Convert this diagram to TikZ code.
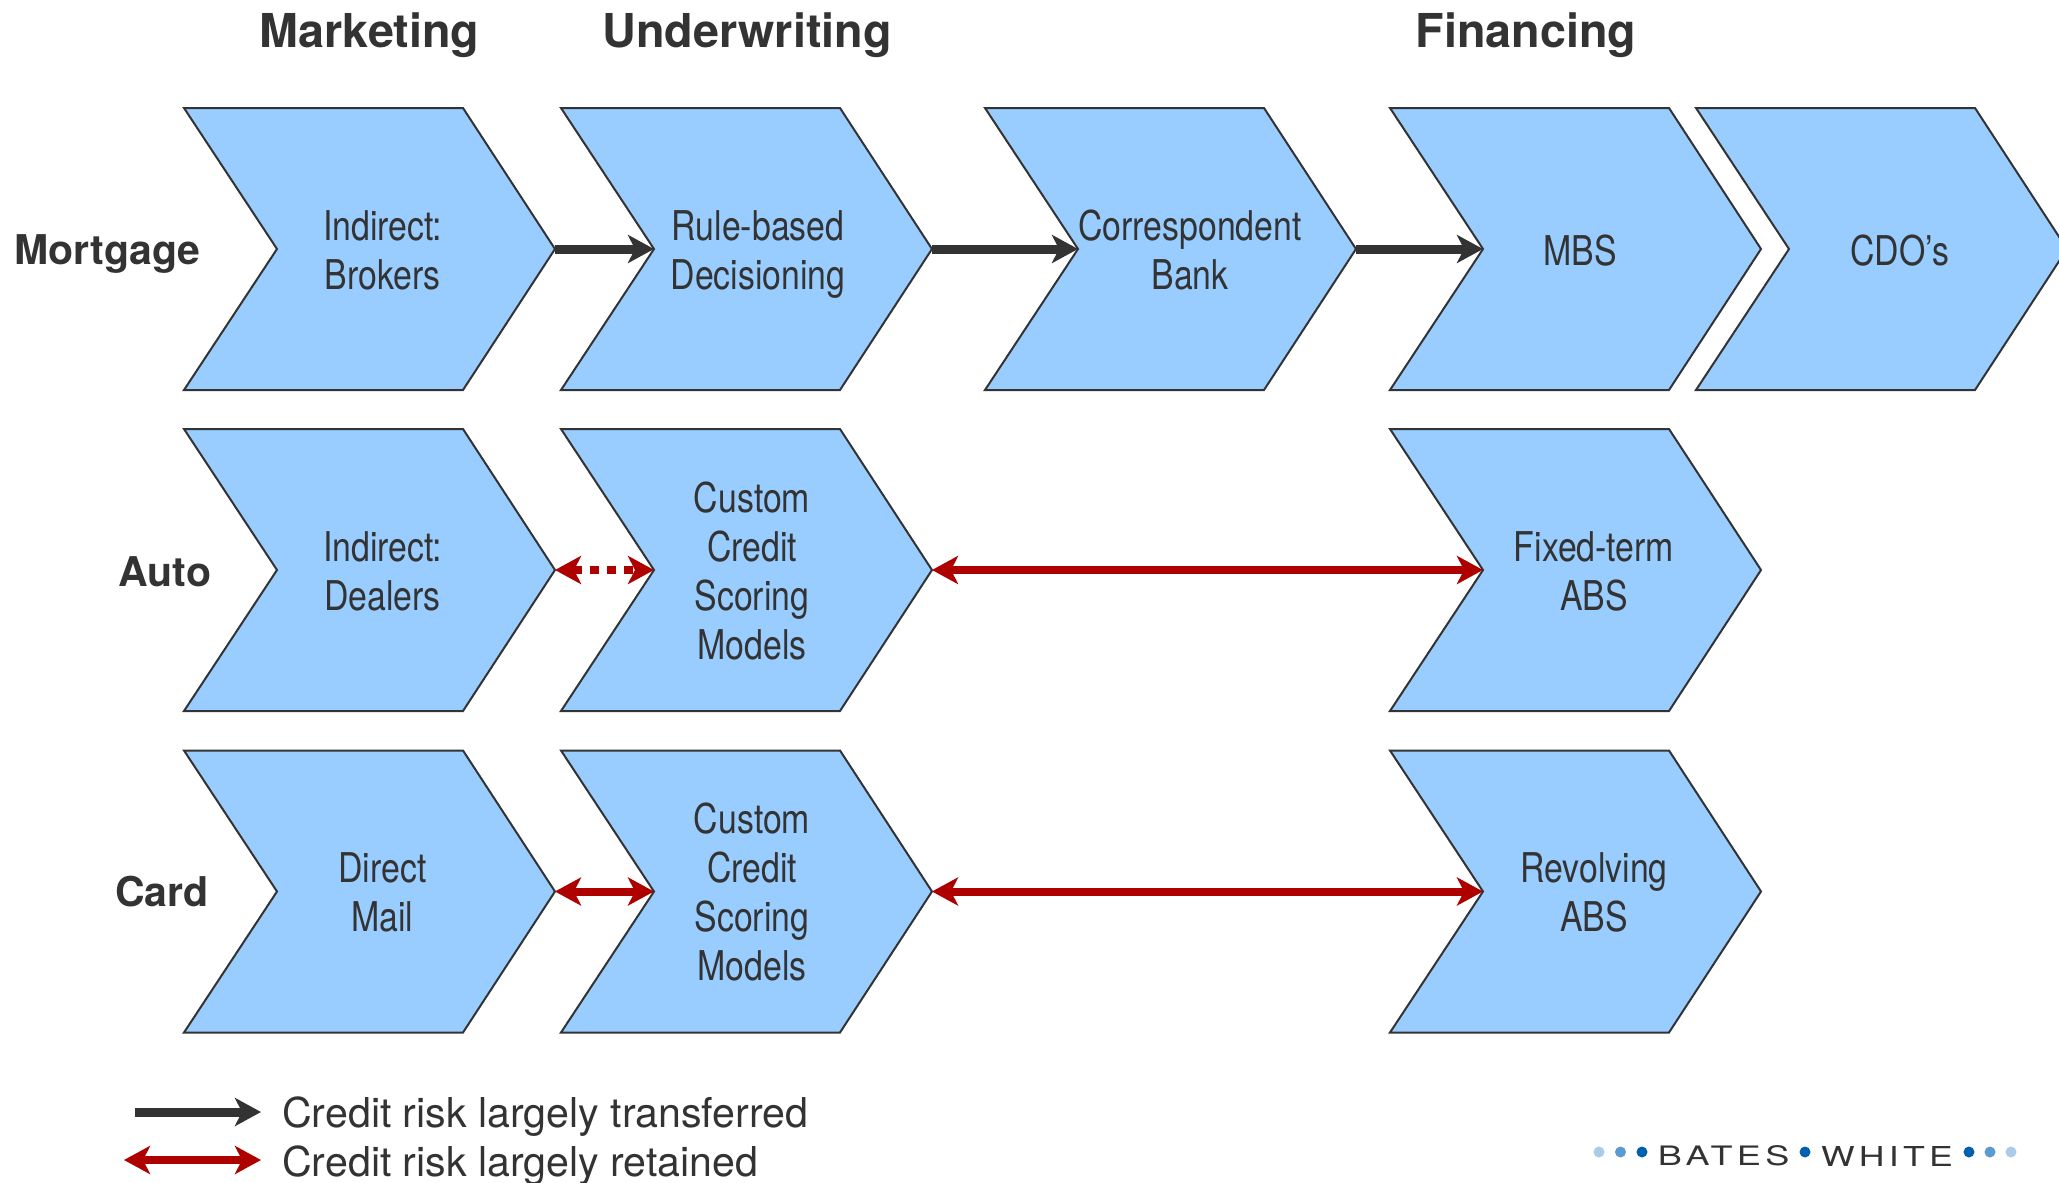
\documentclass[tikz,border=0pt]{standalone}
\usepackage{fontspec}
\usepackage{graphicx}
\usetikzlibrary{arrows.meta}
\setmainfont{TeX Gyre Heros}
\newfontfamily\narrowfont[FakeStretch=0.825]{TeX Gyre Heros}
\definecolor{chevfill}{HTML}{99CCFF}
\definecolor{ink}{HTML}{333333}
\definecolor{riskred}{HTML}{AF0000}
\definecolor{dotA}{HTML}{0060AE}
\definecolor{dotB}{HTML}{5B9BCF}
\definecolor{dotC}{HTML}{ABCBE6}
\tikzset{
  x=1pt,y=-1pt,
  chevron/.style={draw=ink,fill=chevfill,line width=2pt,line join=miter},
  chevtext/.style={text=ink,align=center,inner sep=0pt,font=\narrowfont\fontsize{41}{49}\selectfont},
  coltitle/.style={text=ink,anchor=base,inner sep=0pt,font=\bfseries\fontsize{46.7}{50}\selectfont},
  rowtitle/.style={text=ink,anchor=base,inner sep=0pt,font=\bfseries\fontsize{41}{46}\selectfont},
  legendtext/.style={text=ink,anchor=base west,inner sep=0pt,font=\fontsize{41.15}{46}\selectfont},
  transfer/.style={draw=ink,line width=9pt,-{Stealth[length=26pt,width=28pt,inset=7pt]}},
  retained/.style={draw=riskred,line width=8pt,{Stealth[length=26pt,width=28pt,inset=7pt]}-{Stealth[length=26pt,width=28pt,inset=7pt]}},
  retaineddash/.style={retained,dash pattern=on 9pt off 8pt},
  logotext/.style={text=ink,inner sep=0pt,anchor=center},
}
% name, left x, centre y, text x, text
\newcommand{\chevdy}{0}
\newcommand{\chev}[5]{%
  \draw[chevron] (#2,#3-141) -- ++(279,0) -- ++(92,141) -- ++(-92,141) -- ++(-279,0) -- ++(93,-141) -- cycle;
  \coordinate (#1-n) at (#2+93,#3);
  \coordinate (#1-t) at (#2+371,#3);
  \node[chevtext] (#1) at (#4,#3+\chevdy) {\rule{0pt}{38pt}#5\rule[-8pt]{0pt}{8pt}};
}
\begin{document}
\begin{tikzpicture}
\useasboundingbox (0,0) rectangle (2059,1183);
\clip (0,0) rectangle (2059,1183);
% column titles
\node[coltitle] (tMark) at (369.5,47) {Marketing};
\node[coltitle] (tUnder) at (747,47) {Underwriting};
\node[coltitle] (tFin) at (1526,47) {Financing};
% row titles
\node[rowtitle] (rMort) at (107.5,264) {Mortgage};
\node[rowtitle] (rAuto) at (165,586) {Auto};
\node[rowtitle] (rCard) at (162,906) {Card};
% row 1
\renewcommand{\chevdy}{1.3}
\chev{a1}{184}{249}{382.5}{Indirect:\\Brokers}
\chev{a2}{561}{249}{758}{Rule-based\\Decisioning}
\chev{a3}{985}{249}{1190}{Correspondent\\Bank}
\chev{a4}{1390}{249}{1580}{MBS}
\chev{a5}{1696}{249}{1900}{CDO’s}
\renewcommand{\chevdy}{0.5}
% row 2
\chev{b1}{184}{570}{382.5}{Indirect:\\Dealers}
\chev{b2}{561}{570}{752}{Custom\\Credit\\Scoring\\Models}
\chev{b4}{1390}{570}{1594}{Fixed-term\\ABS}
% row 3
\chev{c1}{184}{891.5}{382.5}{Direct\\Mail}
\chev{c2}{561}{891.5}{752}{Custom\\Credit\\Scoring\\Models}
\chev{c4}{1390}{891.5}{1594}{Revolving\\ABS}
% connectors
\draw[transfer] (a1-t) -- (a2-n);
\draw[transfer] (a2-t) -- (a3-n);
\draw[transfer] (a3-t) -- (a4-n);
\draw[retaineddash] (b1-t) -- (b2-n);
\draw[retained] (b2-t) -- (b4-n);
\draw[retained] (c1-t) -- (c2-n);
\draw[retained] (c2-t) -- (c4-n);
% legend
\coordinate (l1a) at (135,1112);
\coordinate (l1b) at (261,1112);
\coordinate (l2a) at (124,1160);
\coordinate (l2b) at (261,1160);
\draw[transfer] (l1a) -- (l1b);
\draw[retained] (l2a) -- (l2b);
\node[legendtext] (lt1) at (282,1127) {Credit risk largely transferred};
\node[legendtext] (lt2) at (282,1176) {Credit risk largely retained};
% logo
\foreach \px/\col in {1599/dotC,1620.5/dotB,1642/dotA,1805/dotA,1969/dotA,1990/dotB,2011/dotC}
  \fill[\col] (\px,1152) ellipse (5.5pt and 5.5pt);
\node[logotext] (lBates) at (1723.7,1156) {\resizebox{131.5pt}{20pt}{\fontspec{TeX Gyre Heros}[LetterSpace=12]BATES}};
\node[logotext] (lWhite) at (1887,1156) {\resizebox{132pt}{20pt}{\fontspec{TeX Gyre Heros}[LetterSpace=12]WHITE}};
\end{tikzpicture}
\end{document}
